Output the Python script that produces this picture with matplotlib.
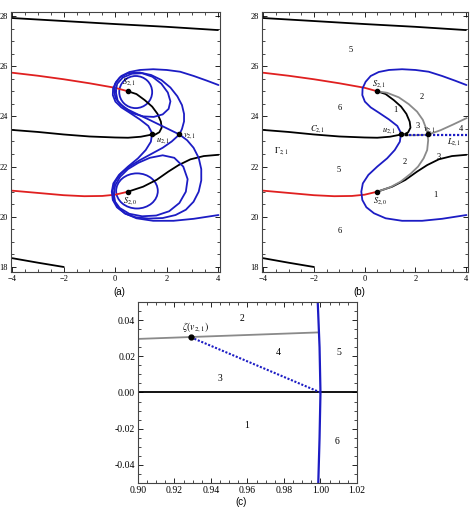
import matplotlib.pyplot as plt
from matplotlib.patches import Ellipse
from matplotlib.ticker import MultipleLocator
import numpy as np

plt.rcParams['font.family'] = 'Liberation Serif'
plt.rcParams['mathtext.fontset'] = 'stix'

# ---- curves shared by panels (a) and (b), data coords ----
top_black_x = [-4, -2, 0, 2, 4]
top_black_y = [27.92, 27.8, 27.68, 27.57, 27.44]
low_black_x = [-4, -3, -2]
low_black_y = [18.35, 18.17, 18.0]
red_top_x = [-4, -3, -2, -1, 0, 0.5]
red_top_y = [25.74, 25.62, 25.48, 25.32, 25.14, 25.0]
red_bot_x = [-4, -3, -2, -1.2, -0.5, 0, 0.5]
red_bot_y = [21.04, 20.95, 20.86, 20.82, 20.83, 20.88, 21.0]
c21_x = [-4, -3, -2, -1, 0, 0.5, 1.0, 1.45]
c21_y = [23.46, 23.38, 23.28, 23.2, 23.16, 23.15, 23.19, 23.28]
su_x = [0.5, 0.83, 1.15, 1.44, 1.65, 1.78, 1.81, 1.72, 1.55, 1.45]
su_y = [25.0, 24.89, 24.65, 24.39, 24.10, 23.79, 23.55, 23.37, 23.27, 23.28]
s20_x = [0.5, 1.09, 1.61, 2.07, 2.47, 2.93, 3.45, 4.02]
s20_y = [21.0, 21.20, 21.47, 21.80, 22.06, 22.29, 22.42, 22.47]
# blue curve through u_{2,1}
bu_x = [4.02, 3.58, 3.06, 2.53, 2.01, 1.48, 0.96, 0.56, 0.24, 0.04, -0.08, -0.09, 0.01,
        0.24, 0.56, 0.96, 1.29, 1.44, 1.39, 1.19, 0.89, 0.50, 0.15, -0.07, -0.13, -0.09,
        0.07, 0.37, 0.83, 1.48, 2.27, 3.06, 4.02]
bu_y = [25.25, 25.42, 25.61, 25.78, 25.85, 25.88, 25.85, 25.77, 25.61, 25.38, 25.12, 24.85,
        24.59, 24.36, 24.15, 23.88, 23.62, 23.33, 22.99, 22.66, 22.33, 22.0, 21.67, 21.33,
        21.0, 20.67, 20.38, 20.14, 19.94, 19.84, 19.84, 19.92, 20.07]
S21 = (0.5, 25.0)
S20 = (0.5, 21.0)
u21 = (1.45, 23.28)
v21 = (2.5, 23.28)

# ---- extra blue loops of panel (a) ----
fig8_x = [2.5, 2.6, 2.68, 2.68, 2.6, 2.42, 2.15, 1.8, 1.4, 0.95, 0.5, 0.18, 0.0, -0.04,
          0.02, 0.2, 0.5, 0.9, 1.3, 1.7, 2.1, 2.5,
          2.8, 3.05, 3.25, 3.35, 3.35, 3.25, 3.05, 2.75, 2.35, 1.85, 1.3, 0.8, 0.4, 0.1,
          -0.07, -0.1, 0.0, 0.22, 0.55, 0.95, 1.4, 1.85, 2.2, 2.5]
fig8_y = [23.28, 23.5, 23.8, 24.1, 24.45, 24.8, 25.15, 25.45, 25.65, 25.75, 25.72, 25.55,
          25.3, 25.0, 24.72, 24.48, 24.27, 24.07, 23.88, 23.68, 23.48, 23.28,
          23.05, 22.75, 22.35, 21.9, 21.45, 21.0, 20.6, 20.28, 20.07, 19.95, 19.93, 19.98,
          20.12, 20.38, 20.7, 21.05, 21.4, 21.72, 22.0, 22.25, 22.5, 22.75, 23.0, 23.28]
loopU_x = [0.02, 0.08, 0.3, 0.65, 1.05, 1.45, 1.8, 2.05, 2.15, 2.08, 1.85, 1.5, 1.1, 0.7,
           0.35, 0.1, 0.02]
loopU_y = [25.0, 25.3, 25.55, 25.7, 25.72, 25.58, 25.3, 24.95, 24.6, 24.3, 24.08, 23.98,
           24.0, 24.12, 24.35, 24.62, 25.0]
loopL_x = [-0.05, 0.0, 0.2, 0.5, 0.9, 1.35, 1.85, 2.3, 2.65, 2.82, 2.75, 2.5, 2.1, 1.6,
           1.05, 0.55, 0.18, 0.0, -0.05]
loopL_y = [20.9, 21.25, 21.6, 21.9, 22.15, 22.35, 22.45, 22.35, 22.0, 21.5, 21.0, 20.55,
           20.22, 20.05, 20.02, 20.12, 20.35, 20.6, 20.9]
circ_centers = [(0.8, 24.97), (0.85, 21.03)]
circ_w = [1.28, 1.62]
circ_h = [1.28, 1.40]

# ---- panel (b) extras ----
gray_arc_x = [0.5, 0.89, 1.35, 1.74, 2.07, 2.30, 2.45, 2.51, 2.47, 2.33, 2.11, 1.81, 1.42,
              1.02, 0.5]
gray_arc_y = [25.0, 24.94, 24.76, 24.49, 24.19, 23.86, 23.46, 23.06, 22.66, 22.33, 22.0,
              21.71, 21.40, 21.18, 21.0]
gray_r_x = [1.45, 2.0, 2.49, 3.0, 3.5, 4.02]
gray_r_y = [23.25, 23.25, 23.27, 23.45, 23.68, 23.93]
L21_x = [1.45, 4.05]
L21_y = [23.27, 23.27]
b_regions = [('5', -0.55, 26.65), ('6', -0.98, 24.32), ('1', 1.22, 24.25), ('2', 2.24, 24.78),
             ('3', 2.10, 23.62), ('4', 3.82, 23.49), ('3', 2.93, 22.39), ('2', 1.59, 22.19),
             ('1', 2.8, 20.87), ('5', -1.01, 21.86), ('6', -0.98, 19.43)]

# ---- panel (c) ----
c_gray_x = [0.90, 0.999]
c_gray_y = [0.0296, 0.0332]
zeta = (0.929, 0.0305)
c_dot_x = [0.929, 1.0]
c_dot_y = [0.0305, 0.0]
c_blue_x = [0.9985, 0.9995, 1.0, 0.9995, 0.9988]
c_blue_y = [0.05, 0.025, 0.0, -0.025, -0.05]
c_regions = [('2', 0.957, 0.0409), ('4', 0.977, 0.0219), ('5', 1.010, 0.0222),
             ('3', 0.945, 0.0076), ('1', 0.9596, -0.0185), ('6', 1.009, -0.0269)]

BLUE = '#1c1cc4'
RED = '#e02020'
GRAY = '#8a8a8a'
lw = 1.3

fig = plt.figure(figsize=(4.74, 5.13), dpi=100)
axa = fig.add_axes([0.0232, 0.4698, 0.441, 0.5068])
axb = fig.add_axes([0.5527, 0.4698, 0.4346, 0.5068])
axc = fig.add_axes([0.2911, 0.0585, 0.462, 0.3528])


def style(ax, maj_x, min_x, maj_y, min_y, fs):
    ax.xaxis.set_major_locator(MultipleLocator(maj_x))
    ax.xaxis.set_minor_locator(MultipleLocator(min_x))
    ax.yaxis.set_major_locator(MultipleLocator(maj_y))
    ax.yaxis.set_minor_locator(MultipleLocator(min_y))
    ax.tick_params(which='both', direction='in', top=True, right=True, labelsize=fs, pad=2)
    ax.tick_params(which='major', length=3.5, width=0.6)
    ax.tick_params(which='minor', length=2, width=0.5)
    for s in ax.spines.values():
        s.set_linewidth(0.8)
        s.set_color('#444444')


def common(ax):
    kw = dict(lw=lw, solid_joinstyle='round', solid_capstyle='round')
    ax.plot(top_black_x, top_black_y, color='k', **kw)
    ax.plot(low_black_x, low_black_y, color='k', **kw)
    ax.plot(red_top_x, red_top_y, color=RED, **kw)
    ax.plot(red_bot_x, red_bot_y, color=RED, **kw)
    ax.plot(c21_x, c21_y, color='k', **kw)
    ax.plot(su_x, su_y, color='k', **kw)
    ax.plot(s20_x, s20_y, color='k', **kw)
    ax.plot(bu_x, bu_y, color=BLUE, **kw)
    ax.set_xlim(-4.05, 4.08)
    ax.set_ylim(17.8, 28.16)
    style(ax, 2, 0.5, 2, 0.5, 6)


# panel (a)
common(axa)
axa.plot(fig8_x, fig8_y, color=BLUE, lw=lw, solid_joinstyle='round')
axa.plot(loopU_x, loopU_y, color=BLUE, lw=lw, solid_joinstyle='round')
axa.plot(loopL_x, loopL_y, color=BLUE, lw=lw, solid_joinstyle='round')
for c, w, h in zip(circ_centers, circ_w, circ_h):
    axa.add_patch(Ellipse(c, w, h, fill=False, ec=BLUE, lw=lw))
for p in [S21, S20, u21, v21]:
    axa.plot(*p, 'o', color='k', ms=3, zorder=5)
axa.text(0.52, 25.28, r'$S_{2,1}$', fontsize=6, ha='center')
axa.text(0.58, 20.55, r'$S_{2,0}$', fontsize=6, ha='center')
axa.text(1.6, 23.0, r'$u_{2,1}$', fontsize=6)
axa.text(2.65, 23.2, r'$v_{2,1}$', fontsize=6)

# panel (b)
common(axb)
axb.plot(gray_arc_x, gray_arc_y, color=GRAY, lw=lw, solid_joinstyle='round')
axb.plot(gray_r_x, gray_r_y, color=GRAY, lw=lw, solid_joinstyle='round')
axb.plot(L21_x, L21_y, color=BLUE, lw=1.6, ls=(0, (1, 0.8)))
for p in [S21, S20, u21, v21]:
    axb.plot(*p, 'o', color='k', ms=3, zorder=5)
axb.plot(1.65, 23.28, 's', color='k', ms=2, zorder=5)
for t, x, y in b_regions:
    axb.text(x, y, t, fontsize=6, ha='center', va='center')
axb.text(0.55, 25.2, r'$S_{2,1}$', fontsize=6, ha='center')
axb.text(0.6, 20.55, r'$S_{2,0}$', fontsize=6, ha='center')
axb.text(1.25, 23.38, r'$u_{2,1}$', fontsize=6, ha='right')
axb.text(2.55, 23.42, r'$v_{2,1}$', fontsize=6, ha='center')
axb.text(3.55, 22.99, r'$L_{2,1}$', fontsize=6, ha='center', va='center')
axb.text(-1.86, 23.5, r'$C_{2,1}$', fontsize=6, ha='center', va='center')
axb.text(-3.3, 22.62, r'$\Gamma_{2,1}$', fontsize=6, ha='center', va='center')

# panel (c)
axc.axhline(0, color='k', lw=1.3)
axc.plot(c_gray_x, c_gray_y, color=GRAY, lw=1.3)
axc.plot(c_dot_x, c_dot_y, color=BLUE, lw=1.5, ls=(0, (1, 0.8)))
axc.plot(c_blue_x, c_blue_y, color=BLUE, lw=1.6)
axc.plot(*zeta, 'o', color='k', ms=3.5, zorder=5)
axc.text(0.9315, 0.0345, r'$\zeta(v_{2,1})$', fontsize=7, ha='center')
for t, x, y in c_regions:
    axc.text(x, y, t, fontsize=7, ha='center', va='center')
axc.set_xlim(0.90, 1.02)
axc.set_ylim(-0.05, 0.05)
style(axc, 0.02, 0.005, 0.02, 0.005, 7)
axc.xaxis.set_major_formatter(lambda v, p: f'{v:.2f}')
axc.yaxis.set_major_formatter(lambda v, p: f'{v:.2f}')

for lab, x, y in [('(a)', 0.251, 0.431), ('(b)', 0.759, 0.431), ('(c)', 0.508, 0.0214)]:
    fig.text(x, y, lab, fontsize=7, ha='center', va='center', family='Liberation Sans')

fig.savefig('out.png', dpi=100)
